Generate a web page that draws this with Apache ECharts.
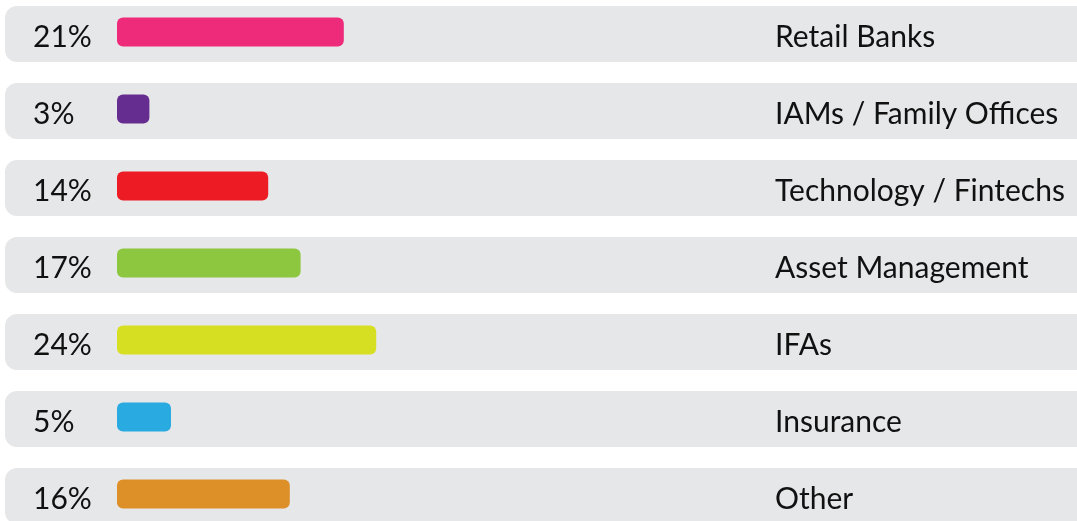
<!DOCTYPE html>
<html>
<head>
<meta charset="utf-8">
<script src="https://cdn.jsdelivr.net/npm/echarts@6/dist/echarts.min.js"></script>
<style>
html, body { margin: 0; padding: 0; background: #fff; }
#main { width: 1077px; height: 521px; }
</style>
</head>
<body>
<div id="main"></div>
<script>
var categories = ['Retail Banks', 'IAMs / Family Offices', 'Technology / Fintechs', 'Asset Management', 'IFAs', 'Insurance', 'Other'];
var shares = [21, 3, 14, 17, 24, 5, 16];
var barColors = ['#ee2a7b', '#662d91', '#ed1c24', '#8dc63f', '#d7df23', '#29abe2', '#dd8f28'];

var myChart = echarts.init(document.getElementById('main'));

var option = {
    backgroundColor: '#fff',
    animation: false,
    textStyle: { fontFamily: 'Lato' },
    grid: [
        { left: 5, width: 1100, top: -4.5, height: 539, outerBoundsMode: 'none' },
        { left: 117, width: 1080, top: -6.5, height: 539, outerBoundsMode: 'none' }
    ],
    xAxis: [
        { gridIndex: 0, type: 'value', min: 0, max: 100, show: false },
        { gridIndex: 1, type: 'value', min: 0, max: 100, show: false }
    ],
    yAxis: [
        { gridIndex: 0, type: 'category', inverse: true, data: categories, show: false },
        { gridIndex: 1, type: 'category', inverse: true, data: categories, show: false }
    ],
    series: [
        {
            name: 'row',
            type: 'bar',
            xAxisIndex: 0,
            yAxisIndex: 0,
            barWidth: 56,
            data: shares,
            itemStyle: { color: 'rgba(0,0,0,0)' },
            showBackground: true,
            backgroundStyle: { color: '#e6e7e8', borderRadius: 12, opacity: 1 },
            label: {
                show: true,
                position: 'insideLeft',
                distance: 28,
                offset: [0, 3],
                formatter: '{c}%',
                color: '#111',
                fontSize: 30,
                fontFamily: 'Lato'
            },
            z: 1
        },
        {
            name: 'share',
            type: 'bar',
            xAxisIndex: 1,
            yAxisIndex: 1,
            barWidth: 29,
            data: shares.map(function (v, i) {
                return { value: v, itemStyle: { color: barColors[i] } };
            }),
            itemStyle: { borderRadius: 6 },
            label: {
                show: true,
                position: 'insideLeft',
                distance: 658,
                offset: [0, 5],
                formatter: '{b}',
                color: '#111',
                fontSize: 30,
                fontFamily: 'Lato'
            },
            z: 3
        }
    ]
};
myChart.setOption(option);
</script>
</body>
</html>
